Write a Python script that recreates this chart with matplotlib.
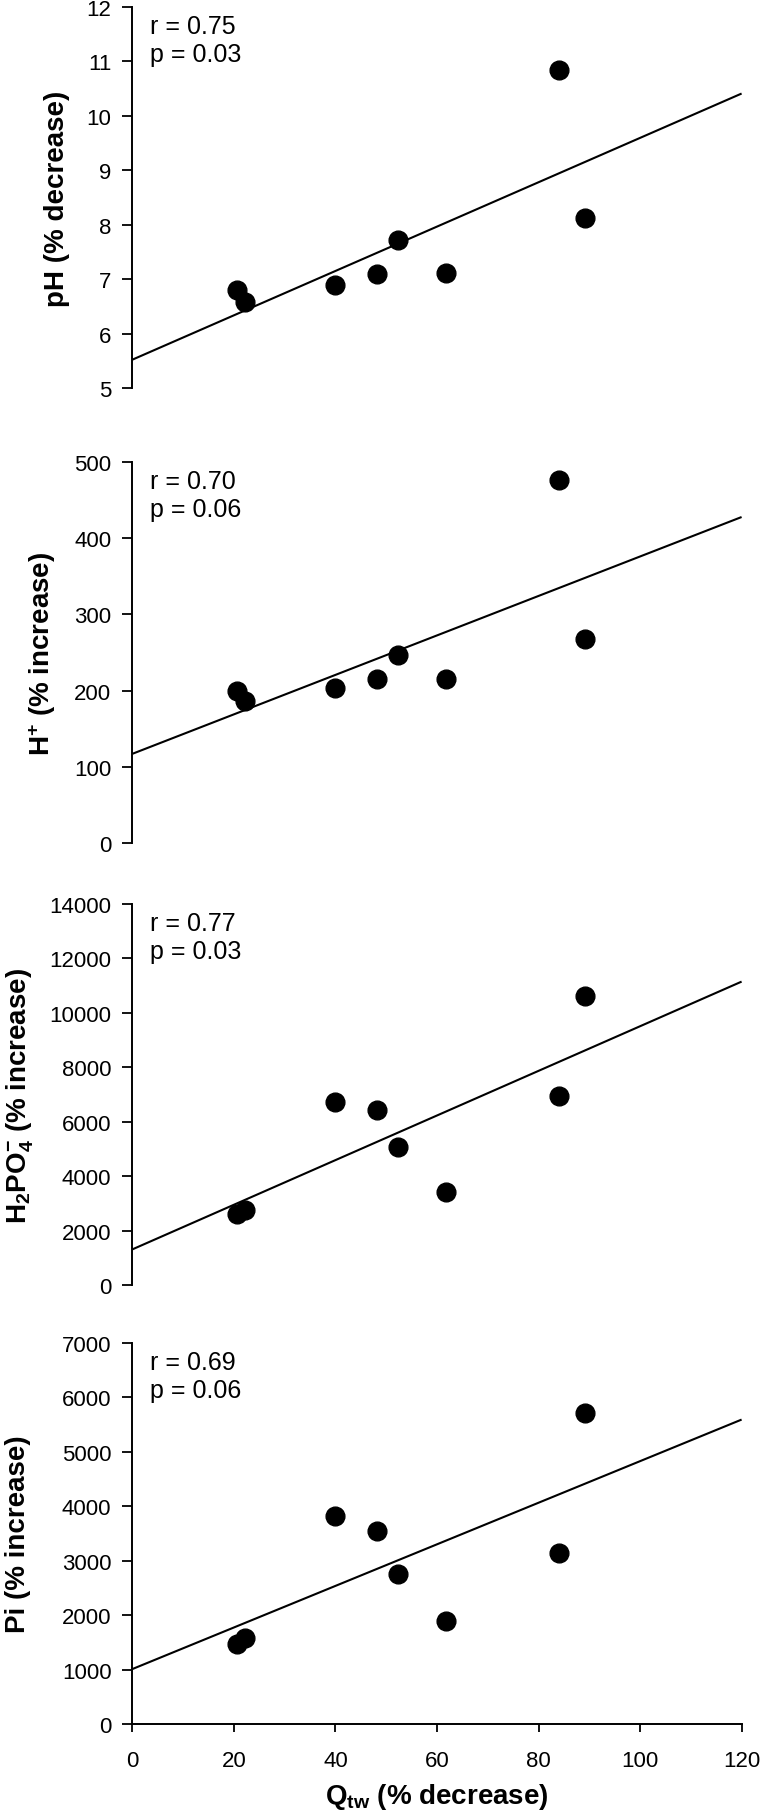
import matplotlib
matplotlib.use("Agg")
import matplotlib.pyplot as plt
import numpy as np

plt.rcParams['font.family'] = ['Liberation Sans', 'DejaVu Sans']
plt.rcParams['mathtext.fontset'] = 'custom'
plt.rcParams['mathtext.rm'] = 'Liberation Sans'
plt.rcParams['mathtext.bf'] = 'Liberation Sans:bold'
plt.rcParams['mathtext.it'] = 'Liberation Sans:italic'

# Data
qtw = [20.7, 22.1, 40.0, 48.1, 52.4, 61.8, 84.1, 89.2]

ph = [6.80, 6.58, 6.90, 7.10, 7.72, 7.12, 10.84, 8.12]
hplus = [200, 187, 204, 215, 247, 215, 477, 268]
h2po4 = [2620, 2740, 6740, 6440, 5070, 3420, 6960, 10630]
pi = [1470, 1580, 3820, 3550, 2750, 1895, 3150, 5720]

# regression lines (intercept, slope) as drawn
fit_intercepts = [5.52, 117, 1308, 1009]
fit_slopes = [0.04075, 2.59, 82.0, 38.2]

r_values = ["0.75", "0.70", "0.77", "0.69"]
p_values = ["0.03", "0.06", "0.03", "0.06"]

ylabels = ["pH (% decrease)",
           r"$\mathbf{H^{+}}$ (% increase)",
           r"$\mathbf{H_{2}PO_{4}^{-}}$ (% increase)",
           "Pi (% increase)"]
ylims = [(5, 12), (0, 500), (0, 14000), (0, 7000)]
yticks = [np.arange(5, 13, 1), np.arange(0, 501, 100),
          np.arange(0, 14001, 2000), np.arange(0, 7001, 1000)]
xticks = np.arange(0, 121, 20)
xlabel = r"$\mathbf{Q_{tw}}$ (% decrease)"

series = [ph, hplus, h2po4, pi]

W, H = 760, 1815
fig = plt.figure(figsize=(W / 100, H / 100), dpi=100)

ax_left = 132.3 / W
ax_w = (741.6 - 132.3) / W
bottoms_px = [389, 844, 1286, 1725]
ax_h_px = 381
label_x = [-0.124, -0.148, -0.184, -0.188]

for i in range(4):
    b = 1 - bottoms_px[i] / H
    ax = fig.add_axes([ax_left, b, ax_w, ax_h_px / H])
    x = np.array(qtw)
    y = np.array(series[i])
    xl = np.array([0, 120])
    ax.plot(xl, fit_intercepts[i] + fit_slopes[i] * xl, color='black', lw=1.5,
            solid_capstyle='butt', clip_on=False)
    ax.plot(x, y, 'o', color='black', markersize=13.5, clip_on=False)
    ax.set_xlim(0, 120)
    ax.set_ylim(*ylims[i])
    ax.set_yticks(yticks[i])
    ax.tick_params(axis='y', direction='out', length=7, width=1.3, pad=8,
                   labelsize=16, colors='black')
    for s in ['top', 'right']:
        ax.spines[s].set_visible(False)
    ax.spines['left'].set_linewidth(1.4)
    if i < 3:
        ax.spines['bottom'].set_visible(False)
        ax.set_xticks([])
    else:
        ax.spines['bottom'].set_linewidth(1.4)
        ax.set_xticks(xticks)
        ax.tick_params(axis='x', direction='out', length=6, width=1.3, pad=13,
                       labelsize=16, colors='black')
        ax.set_xlabel(xlabel, fontsize=20, fontweight='bold', va='center')
        ax.xaxis.set_label_coords(0.5, -0.19)
    ax.set_ylabel(ylabels[i], fontsize=20, fontweight='bold', va='center')
    ax.yaxis.set_label_coords(label_x[i], 0.5)
    ax.text(0.029, 0.933, "r = " + r_values[i], transform=ax.transAxes,
            fontsize=18, ha='left', va='baseline')
    ax.text(0.029, 0.857, "p = " + p_values[i], transform=ax.transAxes,
            fontsize=18, ha='left', va='baseline')

fig.savefig("out.png", dpi=100)
